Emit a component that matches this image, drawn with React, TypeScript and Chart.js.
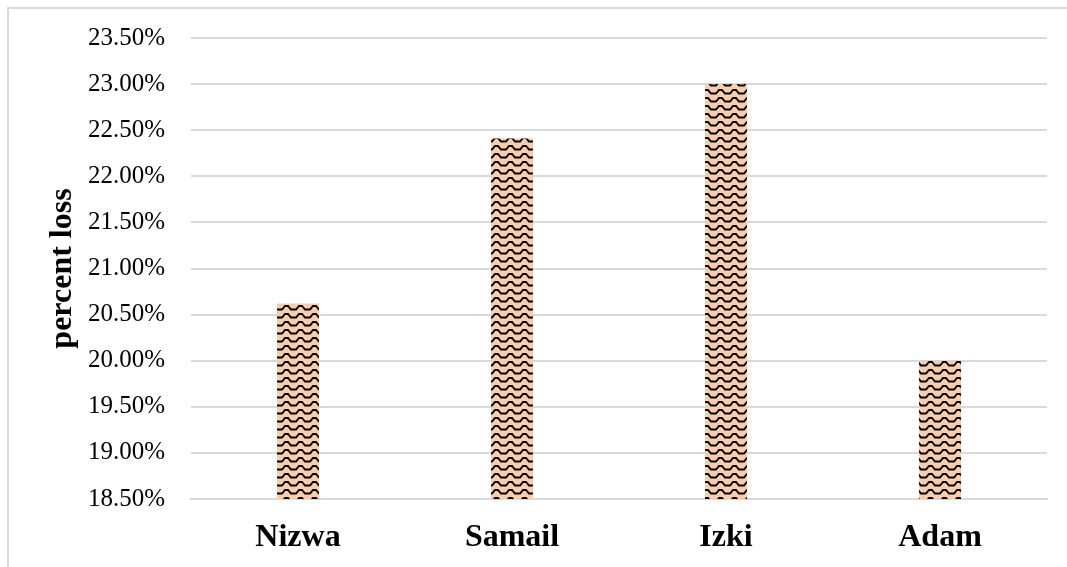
import React, { useEffect, useRef } from "react";
import { Chart, registerables } from "chart.js";

Chart.register(...registerables);

const categories = ["Nizwa", "Samail", "Izki", "Adam"];
const percentLoss = [20.62, 22.41, 23.0, 20.0];
const yMin = 18.5;
const yMax = 23.5;
const yStep = 0.5;
const yTitle = "percent loss";

function makePattern(): CanvasPattern | string {
  const w = 14;
  const h = 8;
  const c = document.createElement("canvas");
  c.width = w;
  c.height = h;
  const ctx = c.getContext("2d");
  if (!ctx) return "#F9CCAC";
  ctx.fillStyle = "#F9CCAC";
  ctx.fillRect(0, 0, w, h);
  ctx.strokeStyle = "#000000";
  ctx.lineWidth = 1.9;
  ctx.lineJoin = "miter";
  ctx.beginPath();
  for (let k = -1; k <= 1; k++) {
    const o = k * w;
    if (k === -1) ctx.moveTo(o - 1, 5.5);
    ctx.lineTo(o + 2, 5.5);
    ctx.lineTo(o + 5, 2);
    ctx.lineTo(o + 8, 2);
    ctx.lineTo(o + 11, 5.5);
    ctx.lineTo(o + 15, 5.5);
  }
  ctx.stroke();
  const p = ctx.createPattern(c, "repeat");
  return p || "#F9CCAC";
}

export default function App() {
  const ref = useRef<HTMLCanvasElement | null>(null);

  useEffect(() => {
    if (!ref.current) return;
    const font = "'Liberation Serif', 'Times New Roman', serif";
    const chart = new Chart(ref.current, {
      type: "bar",
      data: {
        labels: categories,
        datasets: [
          {
            data: percentLoss,
            backgroundColor: makePattern() as any,
            borderWidth: 0,
            categoryPercentage: 1,
            barPercentage: 0.196,
          },
        ],
      },
      options: {
        responsive: false,
        animation: false,
        layout: { padding: { left: 44, right: 20, top: 38, bottom: 0 } },
        plugins: {
          legend: { display: false },
          tooltip: { enabled: false },
        },
        scales: {
          x: {
            afterFit: (axis: any) => {
              axis.height = 68;
            },
            grid: { display: false },
            border: { display: true, color: "#D9D9D9", width: 2 },
            ticks: {
              color: "#000",
              padding: 12,
              font: { family: font, size: 32, weight: "bold" },
            },
          },
          y: {
            min: yMin,
            max: yMax,
            afterFit: (axis: any) => {
              axis.width = 147;
              axis.paddingTop = 0;
            },
            grid: { color: "#D9D9D9", lineWidth: 2, drawTicks: false },
            border: { display: false },
            ticks: {
              stepSize: yStep,
              color: "#000",
              padding: 26,
              font: { family: font, size: 25 },
              callback: (v: any) => Number(v).toFixed(2) + "%",
            },
            title: {
              display: true,
              text: yTitle,
              color: "#000",
              padding: { top: 0, bottom: 0 },
              font: { family: font, size: 32, weight: "bold" },
            },
          },
        },
      },
    });
    return () => chart.destroy();
  }, []);

  return (
    <div style={{ position: "fixed", left: 0, top: 0, width: 1067, height: 567, background: "#fff" }}>
      <div
        style={{
          position: "absolute",
          left: 7,
          top: 7,
          width: 1080,
          height: 580,
          borderLeft: "2px solid #D9D9D9",
          borderTop: "2px solid #D9D9D9",
          boxSizing: "border-box",
        }}
      />
      <canvas ref={ref} width={1067} height={567} style={{ position: "absolute", left: 0, top: 0 }} />
    </div>
  );
}
